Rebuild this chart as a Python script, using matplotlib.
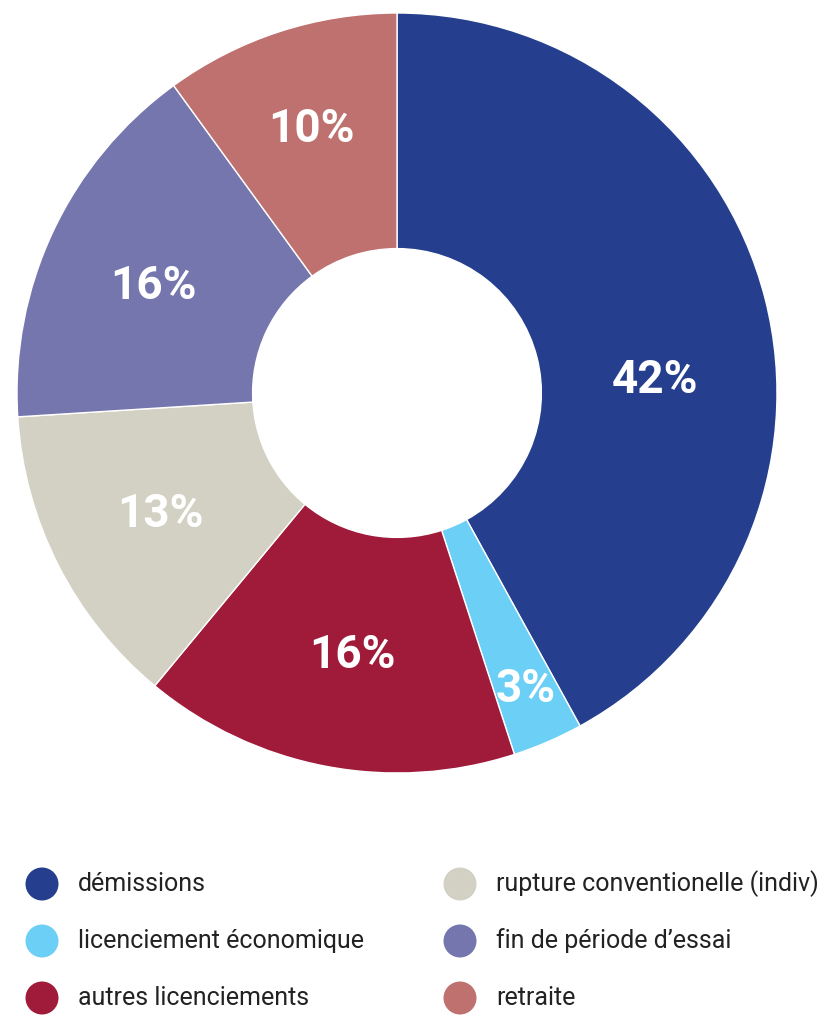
"""Donut chart: motifs de sortie (démissions, licenciements, ...)."""
import numpy as np
import matplotlib.pyplot as plt
from matplotlib.patches import Circle

labels = ["démissions", "licenciement économique", "autres licenciements",
          "rupture conventionelle (indiv)", "fin de période d’essai", "retraite"]
values = [42, 3, 16, 13, 16, 10]
colors = ["#253F8E", "#6CCFF6", "#A01A3A", "#D3D1C3", "#7576AE", "#BF716F"]

# label placement tweaks (fraction of outer radius, angle shift in degrees)
label_r = [0.68, 0.85, 0.70, 0.70, 0.70, 0.73]
label_dang = [-11.5, 0, 1.2, 0, 1.5, 0]

W, H = 830, 1017
fig = plt.figure(figsize=(W / 100, H / 100), dpi=100)

cx, cy, R = 397, 393, 380
ax = fig.add_axes([(cx - R) / W, (H - cy - R) / H, 2 * R / W, 2 * R / H])
wedges, _ = ax.pie(values, colors=colors, startangle=90, counterclock=False,
                   radius=1.0, wedgeprops=dict(width=0.62, edgecolor="white",
                                               linewidth=1.0))
ax.set_xlim(-1, 1)
ax.set_ylim(-1, 1)
ax.set_aspect("equal")
ax.axis("off")

for w, v, r, da in zip(wedges, values, label_r, label_dang):
    ang = np.deg2rad((w.theta1 + w.theta2) / 2 + da)
    ax.text(r * np.cos(ang), r * np.sin(ang), f"{v}%", ha="center",
            va="center", color="white", fontsize=33, fontweight="bold",
            family="Roboto")

# legend drawn in pixel coordinates
lg = fig.add_axes([0, 0, 1, 1])
lg.set_xlim(0, W)
lg.set_ylim(H, 0)
lg.axis("off")
rows_y = [884, 941, 998]
cols_x = [42, 460]
for i, (lab, c) in enumerate(zip(labels, colors)):
    x = cols_x[i // 3]
    y = rows_y[i % 3]
    lg.add_patch(Circle((x, y), 16.5, color=c, lw=0))
    lg.text(x + 36, y, lab, ha="left", va="center", fontsize=18,
            color="#222222", family="Roboto")

fig.savefig("out.png", dpi=100)
